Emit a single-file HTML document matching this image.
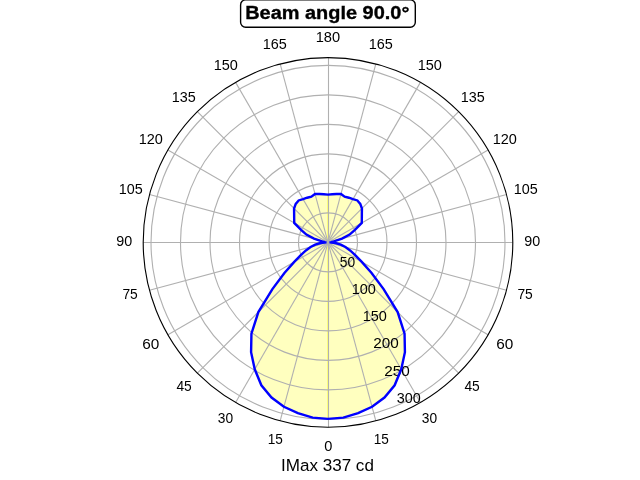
<!DOCTYPE html>
<html><head><meta charset="utf-8"><style>
html,body{margin:0;padding:0;background:#fff;width:640px;height:480px;overflow:hidden}
svg{display:block}
text{font-family:"Liberation Sans",sans-serif;fill:#000}
</style></head><body>
<svg width="640" height="480" viewBox="0 0 640 480">
<rect width="640" height="480" fill="#fff"/>
<path d="M328.00,418.90 L312.67,417.63 L297.89,413.17 L283.95,406.80 L271.53,397.54 L261.35,385.32 L254.75,369.27 L251.08,352.25 L251.44,333.64 L258.35,312.05 L272.39,289.07 L284.42,272.91 L294.23,261.90 L300.81,255.08 L305.92,250.44 L310.61,247.06 L315.20,244.66 L320.53,243.05 L326.40,242.40 L324.81,242.12 L322.09,241.36 L313.99,238.65 L306.39,234.53 L301.08,229.85 L294.23,222.90 L294.17,218.71 L294.14,213.99 L294.06,208.46 L295.73,203.94 L298.63,200.46 L303.05,199.19 L307.16,197.72 L311.38,196.73 L315.03,194.01 L319.46,193.95 L323.79,194.28 L328.00,194.60 L332.21,194.28 L336.54,193.95 L340.97,194.01 L344.62,196.73 L348.84,197.72 L352.95,199.19 L357.37,200.46 L360.27,203.94 L361.94,208.46 L361.86,213.99 L361.83,218.71 L361.77,222.90 L354.92,229.85 L349.61,234.53 L342.01,238.65 L333.91,241.36 L331.19,242.12 L329.60,242.40 L335.47,243.05 L340.80,244.66 L345.39,247.06 L350.08,250.44 L355.19,255.08 L361.77,261.90 L371.58,272.91 L383.61,289.07 L397.65,312.05 L404.56,333.64 L404.92,352.25 L401.25,369.27 L394.65,385.32 L384.47,397.54 L372.05,406.80 L358.11,413.17 L343.33,417.63 L328.00,418.90 Z" fill="#ffffbf"/>
<rect x="327" y="194.6" width="1" height="46.8" fill="#ffff78"/>
<rect x="327" y="243.4" width="1" height="175.5" fill="#ffff78"/>
<g stroke="#b0b0b0" stroke-width="1.11" fill="none"><circle cx="328.0" cy="242.4" r="29.500"/><circle cx="328.0" cy="242.4" r="59.000"/><circle cx="328.0" cy="242.4" r="88.500"/><circle cx="328.0" cy="242.4" r="118.000"/><circle cx="328.0" cy="242.4" r="147.500"/><circle cx="328.0" cy="242.4" r="177.000"/><line x1="328.50" y1="242.40" x2="328.50" y2="427.20"/><line x1="328.00" y1="242.40" x2="375.83" y2="420.90"/><line x1="328.00" y1="242.40" x2="420.40" y2="402.44"/><line x1="328.00" y1="242.40" x2="458.67" y2="373.07"/><line x1="328.00" y1="242.40" x2="488.04" y2="334.80"/><line x1="328.00" y1="242.40" x2="506.50" y2="290.23"/><line x1="328.00" y1="242.50" x2="512.80" y2="242.50"/><line x1="328.00" y1="242.40" x2="506.50" y2="194.57"/><line x1="328.00" y1="242.40" x2="488.04" y2="150.00"/><line x1="328.00" y1="242.40" x2="458.67" y2="111.73"/><line x1="328.00" y1="242.40" x2="420.40" y2="82.36"/><line x1="328.00" y1="242.40" x2="375.83" y2="63.90"/><line x1="328.50" y1="242.40" x2="328.50" y2="57.60"/><line x1="328.00" y1="242.40" x2="280.17" y2="63.90"/><line x1="328.00" y1="242.40" x2="235.60" y2="82.36"/><line x1="328.00" y1="242.40" x2="197.33" y2="111.73"/><line x1="328.00" y1="242.40" x2="167.96" y2="150.00"/><line x1="328.00" y1="242.40" x2="149.50" y2="194.57"/><line x1="328.00" y1="242.50" x2="143.20" y2="242.50"/><line x1="328.00" y1="242.40" x2="149.50" y2="290.23"/><line x1="328.00" y1="242.40" x2="167.96" y2="334.80"/><line x1="328.00" y1="242.40" x2="197.33" y2="373.07"/><line x1="328.00" y1="242.40" x2="235.60" y2="402.44"/><line x1="328.00" y1="242.40" x2="280.17" y2="420.90"/></g>
<circle cx="328.0" cy="242.4" r="184.8" fill="none" stroke="#000" stroke-width="1.11"/>
<rect x="240.6" y="-0.1" width="174.7" height="27.4" rx="5" ry="5" fill="#fff" stroke="#000" stroke-width="1.39"/>
<g style="will-change:transform">
<text transform="matrix(1.0379 0 0 1 324.36 450.85)" font-size="14.056">0</text>
<text transform="matrix(0.9526 0 0 1 373.78 443.86)" font-size="14.286">15</text>
<text transform="matrix(0.9812 0 0 1 421.76 422.85)" font-size="14.042">30</text>
<text transform="matrix(0.9669 0 0 1 464.43 390.85)" font-size="14.271">45</text>
<text transform="matrix(1.0936 0 0 1 496.24 348.85)" font-size="14.042">60</text>
<text transform="matrix(0.9690 0 0 1 517.38 298.86)" font-size="14.286">75</text>
<text transform="matrix(1.0219 0 0 1 524.32 245.85)" font-size="14.042">90</text>
<text transform="matrix(1.0210 0 0 1 513.72 193.86)" font-size="14.085">105</text>
<text transform="matrix(1.0296 0 0 1 492.71 143.86)" font-size="14.085">120</text>
<text transform="matrix(1.0210 0 0 1 460.72 101.86)" font-size="14.085">135</text>
<text transform="matrix(1.0296 0 0 1 417.71 69.86)" font-size="14.085">150</text>
<text transform="matrix(1.0256 0 0 1 368.72 48.86)" font-size="14.085">165</text>
<text transform="matrix(1.0397 0 0 1 315.70 41.86)" font-size="14.085">180</text>
<text transform="matrix(1.0256 0 0 1 262.72 48.86)" font-size="14.085">165</text>
<text transform="matrix(1.0296 0 0 1 213.71 69.86)" font-size="14.085">150</text>
<text transform="matrix(1.0210 0 0 1 171.72 101.86)" font-size="14.085">135</text>
<text transform="matrix(1.0296 0 0 1 138.71 143.86)" font-size="14.085">120</text>
<text transform="matrix(1.0210 0 0 1 118.72 193.86)" font-size="14.085">105</text>
<text transform="matrix(1.0219 0 0 1 116.32 245.85)" font-size="14.042">90</text>
<text transform="matrix(0.9690 0 0 1 122.38 298.86)" font-size="14.286">75</text>
<text transform="matrix(1.0936 0 0 1 142.24 348.85)" font-size="14.042">60</text>
<text transform="matrix(0.9669 0 0 1 176.43 390.85)" font-size="14.271">45</text>
<text transform="matrix(0.9812 0 0 1 217.76 422.85)" font-size="14.042">30</text>
<text transform="matrix(0.9526 0 0 1 267.78 443.86)" font-size="14.286">15</text>
<text transform="matrix(0.9826 0 0 1 339.71 266.85)" font-size="14.070">50</text>
<text transform="matrix(1.0296 0 0 1 351.71 293.86)" font-size="14.085">100</text>
<text transform="matrix(1.0296 0 0 1 362.71 320.86)" font-size="14.085">150</text>
<text transform="matrix(1.0896 0 0 1 373.23 347.86)" font-size="14.056">200</text>
<text transform="matrix(1.0875 0 0 1 384.23 375.86)" font-size="14.085">250</text>
<text transform="matrix(1.0252 0 0 1 396.73 402.85)" font-size="14.042">300</text>
<text transform="matrix(1.0418 0 0 1 245.20 18.88)" font-size="19.138" font-weight="bold" stroke="#000" stroke-width="0.35">Beam angle 90.0°</text>
<text transform="matrix(1.0460 0 0 1 280.96 470.84)" font-size="16.327">IMax 337 cd</text>
</g>
<path d="M328.00,418.90 L312.67,417.63 L297.89,413.17 L283.95,406.80 L271.53,397.54 L261.35,385.32 L254.75,369.27 L251.08,352.25 L251.44,333.64 L258.35,312.05 L272.39,289.07 L284.42,272.91 L294.23,261.90 L300.81,255.08 L305.92,250.44 L310.61,247.06 L315.20,244.66 L320.53,243.05 L326.40,242.40 L324.81,242.12 L322.09,241.36 L313.99,238.65 L306.39,234.53 L301.08,229.85 L294.23,222.90 L294.17,218.71 L294.14,213.99 L294.06,208.46 L295.73,203.94 L298.63,200.46 L303.05,199.19 L307.16,197.72 L311.38,196.73 L315.03,194.01 L319.46,193.95 L323.79,194.28 L328.00,194.60 L332.21,194.28 L336.54,193.95 L340.97,194.01 L344.62,196.73 L348.84,197.72 L352.95,199.19 L357.37,200.46 L360.27,203.94 L361.94,208.46 L361.86,213.99 L361.83,218.71 L361.77,222.90 L354.92,229.85 L349.61,234.53 L342.01,238.65 L333.91,241.36 L331.19,242.12 L329.60,242.40 L335.47,243.05 L340.80,244.66 L345.39,247.06 L350.08,250.44 L355.19,255.08 L361.77,261.90 L371.58,272.91 L383.61,289.07 L397.65,312.05 L404.56,333.64 L404.92,352.25 L401.25,369.27 L394.65,385.32 L384.47,397.54 L372.05,406.80 L358.11,413.17 L343.33,417.63 L328.00,418.90 Z" fill="none" stroke="#0000ff" stroke-width="2.4" stroke-linejoin="miter"/>
</svg>
</body></html>
